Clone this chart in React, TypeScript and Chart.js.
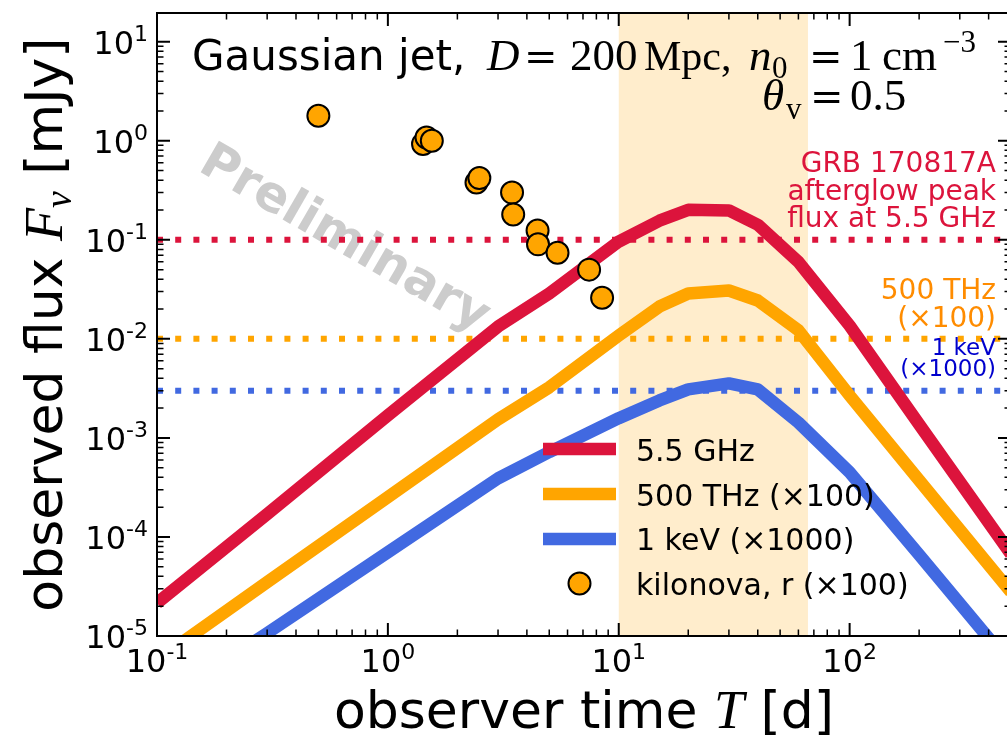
import React, { useEffect, useRef } from "react";
import { Chart, registerables } from "chart.js";

Chart.register(...registerables);

const SANS = '"DejaVu Sans", "Liberation Sans", sans-serif';
const SERIF = '"Liberation Serif", "DejaVu Serif", serif';
const EQ_FONT = '40px "DejaVu Serif", serif';

// Model afterglow light curves: observer time [d] and flux [mJy]
const timeDays = [0.1, 0.3, 1, 3, 5, 10, 15, 20, 30, 40, 60, 100, 200, 500];
const flux5p5GHz = [2.15e-5, 1.7e-4, 1.69e-3, 0.0133, 0.0287, 0.096, 0.156, 0.201, 0.198, 0.142, 0.06, 0.0136, 1.37e-3, 6.7e-5];
const flux500THz = [5.7e-6, 3.5e-5, 2.52e-4, 1.54e-3, 3.24e-3, 0.0108, 0.0212, 0.0287, 0.0308, 0.0244, 0.0122, 2.68e-3, 3.74e-4, 2.78e-5];
const flux1keV = [1.97e-6, 1.07e-5, 7.0e-5, 3.9e-4, 7.2e-4, 1.58e-3, 2.39e-3, 3.09e-3, 3.55e-3, 3.09e-3, 1.43e-3, 4.5e-4, 6.6e-5, 5.1e-6];

// Kilonova r-band photometry (x100)
const kilonovaDays = [0.5, 1.42, 1.47, 1.55, 2.42, 2.49, 3.45, 3.49, 4.45, 4.47, 5.43, 7.44, 8.47];
const kilonovaFlux = [1.79, 0.93, 1.08, 1.0, 0.38, 0.42, 0.3, 0.18, 0.124, 0.09, 0.074, 0.05, 0.026];

// Reference levels drawn as dotted lines
const levelSpanDays = [0.1, 450];
const grbPeakFlux = 0.1;
const opticalLevel = 1e-2;
const xrayLevel = 3e-3;

// Shaded time window [d]
const shadeWindow = [10, 66];

// Axis ranges and labelled decades
const xRange = [0.1, 500];
const yRange = [1e-5, 19.5];
const xMajorTicks = [0.1, 1, 10, 100];
const xMajorExponents = ["-1", "0", "1", "2"];
const yMajorTicks = [1e-5, 1e-4, 1e-3, 1e-2, 1e-1, 1, 10];
const yMajorExponents = ["-5", "-4", "-3", "-2", "-1", "0", "1"];

const RED = "#DC143C";
const ORANGE = "#FFA500";
const BLUE = "#4169E1";

const toPoints = (xs: number[], ys: number[]) => xs.map((x, i) => ({ x, y: ys[i] }));
const level = (v: number) => levelSpanDays.map((x) => ({ x, y: v }));

function drawPow(ctx: CanvasRenderingContext2D, exp: string, x: number, baseY: number, align: "center" | "right") {
  ctx.font = `32px ${SANS}`;
  const wb = ctx.measureText("10").width;
  ctx.font = `22px ${SANS}`;
  const ws = ctx.measureText(exp).width;
  const x0 = align === "center" ? x - (wb + ws) / 2 : x - (wb + ws);
  ctx.textAlign = "left";
  ctx.textBaseline = "alphabetic";
  ctx.font = `32px ${SANS}`;
  ctx.fillText("10", x0, baseY);
  ctx.font = `22px ${SANS}`;
  ctx.fillText(exp, x0 + wb, baseY - 13);
}

type Piece = { text: string; font: string; dy?: number };

function runWidth(ctx: CanvasRenderingContext2D, pieces: Piece[]) {
  let w = 0;
  for (const p of pieces) {
    ctx.font = p.font;
    w += ctx.measureText(p.text).width;
  }
  return w;
}

function drawRun(ctx: CanvasRenderingContext2D, pieces: Piece[], x: number, y: number) {
  let cx = x;
  ctx.textAlign = "left";
  ctx.textBaseline = "alphabetic";
  for (const p of pieces) {
    ctx.font = p.font;
    ctx.fillText(p.text, cx, y + (p.dy || 0));
    cx += ctx.measureText(p.text).width;
  }
}

const decorations = {
  id: "decorations",
  beforeDatasetsDraw(chart: any) {
    const ctx: CanvasRenderingContext2D = chart.ctx;
    const xs = chart.scales.x;
    const { top, bottom } = chart.chartArea;
    ctx.save();
    // shaded window
    const x1 = xs.getPixelForValue(shadeWindow[0]);
    const x2 = xs.getPixelForValue(shadeWindow[1]);
    ctx.fillStyle = "rgba(255,165,0,0.2)";
    ctx.fillRect(x1, top, x2 - x1, bottom - top);
    // watermark
    ctx.translate(344, 240);
    ctx.rotate((30 * Math.PI) / 180);
    ctx.fillStyle = "#cccccc";
    ctx.font = `bold 50px ${SANS}`;
    ctx.textAlign = "center";
    ctx.textBaseline = "middle";
    ctx.fillText("Preliminary", 0, 0);
    ctx.restore();
  },
  afterDatasetsDraw(chart: any) {
    const ctx: CanvasRenderingContext2D = chart.ctx;
    ctx.save();
    ctx.textBaseline = "alphabetic";

    // level annotations on the right
    ctx.textAlign = "right";
    ctx.fillStyle = RED;
    ctx.font = `28px ${SANS}`;
    ctx.fillText("GRB 170817A", 996, 172);
    ctx.fillText("afterglow peak", 996, 200);
    ctx.fillText("flux at 5.5 GHz", 996, 227);
    ctx.fillStyle = "#FF8C00";
    ctx.fillText("500 THz", 996, 299);
    ctx.fillText("(\u00d7100)", 996, 327);
    ctx.fillStyle = "#0000CD";
    ctx.font = `23px ${SANS}`;
    ctx.fillText("1 keV", 996, 355);
    ctx.fillText("(\u00d71000)", 996, 376);

    // legend
    const handles = [
      { color: RED, y: 449 },
      { color: ORANGE, y: 494 },
      { color: BLUE, y: 539 },
    ];
    ctx.lineCap = "butt";
    for (const h of handles) {
      ctx.strokeStyle = h.color;
      ctx.lineWidth = 12.5;
      ctx.beginPath();
      ctx.moveTo(543, h.y);
      ctx.lineTo(616, h.y);
      ctx.stroke();
    }
    ctx.beginPath();
    ctx.arc(579.5, 583.5, 11, 0, Math.PI * 2);
    ctx.fillStyle = ORANGE;
    ctx.fill();
    ctx.lineWidth = 2;
    ctx.strokeStyle = "#000";
    ctx.stroke();
    ctx.fillStyle = "#000";
    ctx.textAlign = "left";
    ctx.font = `30px ${SANS}`;
    ctx.fillText("5.5 GHz", 636, 461);
    ctx.fillText("500 THz (\u00d7100)", 636, 506);
    ctx.fillText("1 keV (\u00d71000)", 636, 550);
    ctx.fillText("kilonova, r (\u00d7100)", 636, 595);

    // header
    const header: [string, string, number, number][] = [
      ["Gaussian jet,", `42px ${SANS}`, 192, 70],
      ["D", `italic 45px ${SERIF}`, 487, 70],
      ["=", EQ_FONT, 524, 70],
      ["200", `45px ${SERIF}`, 570, 70],
      ["Mpc,", `42px ${SERIF}`, 644, 70],
      ["n", `italic 45px ${SERIF}`, 749, 70],
      ["0", `31px ${SERIF}`, 772, 78],
      ["=", EQ_FONT, 809, 70],
      ["1", `45px ${SERIF}`, 850, 70],
      ["cm", `45px ${SERIF}`, 882, 70],
      ["\u22123", `31px ${SERIF}`, 943, 52],
      ["\u03b8", `italic 45px ${SERIF}`, 762, 110],
      ["v", `31px ${SERIF}`, 786, 119],
      ["=", EQ_FONT, 810, 110],
      ["0.5", `45px ${SERIF}`, 850, 110],
    ];
    ctx.fillStyle = "#000";
    for (const [t, f, x, y] of header) {
      ctx.font = f;
      ctx.fillText(t, x, y);
    }
    ctx.restore();
  },
  afterDraw(chart: any) {
    const ctx: CanvasRenderingContext2D = chart.ctx;
    const xs = chart.scales.x;
    const ys = chart.scales.y;
    const { left, right, top, bottom } = chart.chartArea;
    ctx.save();
    ctx.strokeStyle = "#000";
    ctx.fillStyle = "#000";

    // inward ticks on all four sides
    for (let k = -1; k <= 2; k++) {
      for (let m = 1; m <= 9; m++) {
        const v = m * Math.pow(10, k);
        if (v < xRange[0] * 0.999 || v > xRange[1] * 1.001) continue;
        const px = xs.getPixelForValue(v);
        const len = m === 1 ? 13 : 6.5;
        ctx.lineWidth = m === 1 ? 2 : 1.5;
        ctx.beginPath();
        ctx.moveTo(px, bottom);
        ctx.lineTo(px, bottom - len);
        ctx.moveTo(px, top);
        ctx.lineTo(px, top + len);
        ctx.stroke();
      }
    }
    for (let k = -5; k <= 1; k++) {
      for (let m = 1; m <= 9; m++) {
        const v = m * Math.pow(10, k);
        if (v < yRange[0] * 0.999 || v > yRange[1] * 1.001) continue;
        const py = ys.getPixelForValue(v);
        const len = m === 1 ? 13 : 6.5;
        ctx.lineWidth = m === 1 ? 2 : 1.5;
        ctx.beginPath();
        ctx.moveTo(left, py);
        ctx.lineTo(left + len, py);
        ctx.moveTo(right, py);
        ctx.lineTo(right - len, py);
        ctx.stroke();
      }
    }

    // frame
    ctx.lineWidth = 2;
    ctx.strokeRect(left, top, right - left, bottom - top);

    // tick labels
    xMajorTicks.forEach((v, i) => drawPow(ctx, xMajorExponents[i], xs.getPixelForValue(v), 672, "center"));
    yMajorTicks.forEach((v, i) => drawPow(ctx, yMajorExponents[i], 148, ys.getPixelForValue(v) + 12, "right"));

    // x axis title
    const xTitle: Piece[] = [
      { text: "observer time ", font: `52px ${SANS}` },
      { text: "T", font: `italic 54px ${SERIF}` },
      { text: " [d]", font: `52px ${SANS}` },
    ];
    const xw = runWidth(ctx, xTitle);
    drawRun(ctx, xTitle, (left + right) / 2 - xw / 2, 728);

    // y axis title
    const yTitle: Piece[] = [
      { text: "observed flux ", font: `52px ${SANS}` },
      { text: "F", font: `italic 54px ${SERIF}` },
      { text: "\u03bd", font: `italic 38px ${SERIF}`, dy: 9 },
      { text: " [mJy]", font: `52px ${SANS}` },
    ];
    const yw = runWidth(ctx, yTitle);
    ctx.translate(62, (top + bottom) / 2);
    ctx.rotate(-Math.PI / 2);
    drawRun(ctx, yTitle, -yw / 2, 0);
    ctx.restore();
  },
};

export default function App() {
  const ref = useRef<HTMLCanvasElement>(null);

  useEffect(() => {
    const canvas = ref.current;
    if (!canvas) return;
    const dotted = (color: string, v: number) => ({
      type: "line" as const,
      data: level(v),
      borderColor: color,
      borderWidth: 6,
      borderDash: [6, 12.2],
      borderCapStyle: "butt" as const,
      pointRadius: 0,
      order: 3,
    });
    const curve = (color: string, ys: number[]) => ({
      type: "line" as const,
      data: toPoints(timeDays, ys),
      borderColor: color,
      borderWidth: 12.5,
      borderJoinStyle: "round" as const,
      borderCapStyle: "butt" as const,
      pointRadius: 0,
      tension: 0,
      order: 2,
    });
    const chart = new Chart(canvas, {
      type: "line",
      data: {
        datasets: [
          {
            type: "scatter",
            data: toPoints(kilonovaDays, kilonovaFlux),
            backgroundColor: ORANGE,
            borderColor: "#000",
            borderWidth: 2,
            pointRadius: 11,
            order: 0,
          } as any,
          curve(BLUE, flux1keV),
          curve(ORANGE, flux500THz),
          curve(RED, flux5p5GHz),
          dotted(BLUE, xrayLevel),
          dotted(ORANGE, opticalLevel),
          dotted(RED, grbPeakFlux),
        ],
      },
      options: {
        animation: false,
        responsive: false,
        events: [],
        layout: { padding: { left: 157, top: 12, right: 13, bottom: 101 } },
        scales: {
          x: { type: "logarithmic", min: xRange[0], max: xRange[1], display: false },
          y: { type: "logarithmic", min: yRange[0], max: yRange[1], display: false },
        },
        plugins: { legend: { display: false }, tooltip: { enabled: false } },
      },
      plugins: [decorations],
    });
    return () => chart.destroy();
  }, []);

  return (
    <div
      style={{
        position: "absolute",
        left: 0,
        top: 0,
        width: 1007,
        height: 737,
        overflow: "hidden",
        background: "#fff",
      }}
    >
      <canvas ref={ref} width={1024} height={737} style={{ display: "block", width: 1024, height: 737 }} />
    </div>
  );
}
